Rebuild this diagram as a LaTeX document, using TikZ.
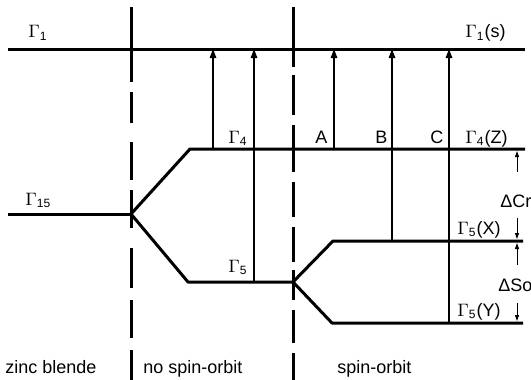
\documentclass[tikz,border=0pt]{standalone}
\usepackage{fontspec}
\setmainfont{Liberation Sans}
\usetikzlibrary{arrows.meta}
\begin{document}
\begin{tikzpicture}[x=0.5pt,y=-0.5pt,
  level/.style={line width=1.5pt},
  divider/.style={line width=1.5pt},
  trans/.style={line width=0.8pt,-{Triangle[length=4.5pt,width=3.2pt]}},
  gaparrow/.style={line width=0.5pt,-{Triangle[length=3pt,width=2pt]}},
  lab/.style={anchor=base west,inner sep=0pt,font=\fontsize{9}{11}\selectfont}]
\useasboundingbox (0,0) rectangle (531,380);
% dividers
\foreach \a/\b in {7/82,92/123,142/180,190/228,248/288,300/338,350/380}
  \draw[divider] (131,\a) -- (131,\b);
\foreach \a/\b in {7/67,75/115,125/172,182/217,227/262,270/300,310/343,353/380}
  \draw[divider] (293,\a) -- (293,\b);
% level coordinates
\coordinate (g1L) at (8,49);
\coordinate (g1R) at (525,49);
\coordinate (g15L) at (8,214);
\coordinate (s1) at (131,214);
\coordinate (u1) at (190,149);
\coordinate (g4R) at (525,149);
\coordinate (l1) at (188,282);
\coordinate (s2) at (293,282);
\coordinate (u2) at (333,241);
\coordinate (g5xR) at (523,241);
\coordinate (l2) at (332,323);
\coordinate (g5yR) at (523,323);
% levels
\draw[level] (g1L) -- (g1R);
\draw[level] (g15L) -- (s1);
\draw[level,line join=round] (g4R) -- (u1) -- (s1) -- (l1) -- (s2);
\draw[level,line join=round] (g5xR) -- (u2) -- (s2) -- (l2) -- (g5yR);
% transitions
\foreach \n/\x/\y in {t1/213/149,t2/254/282,tA/334/149,tB/392/241,tC/449/323}{
  \coordinate (\n b) at (\x,\y);
  \coordinate (\n t) at (\x,49);
}
\foreach \n in {t1,t2,tA,tB,tC}
  \draw[trans] (\n b) -- (\n t);
% splitting arrows
\coordinate (cr1) at (517,172); \coordinate (cr1e) at (517,151);
\coordinate (cr2) at (517,218); \coordinate (cr2e) at (517,239);
\coordinate (so1) at (517,265); \coordinate (so1e) at (517,243);
\coordinate (so2) at (517,303); \coordinate (so2e) at (517,321);
\draw[gaparrow] (cr1) -- (cr1e);
\draw[gaparrow] (cr2) -- (cr2e);
\draw[gaparrow] (so1) -- (so1e);
\draw[gaparrow] (so2) -- (so2e);
% labels
\node[lab] (lg1) at (28,38) {$\Gamma$\textsubscript{1}};
\node[lab] (lg1s) at (465,38) {$\Gamma$\textsubscript{1}(s)};
\node[lab] (lg15) at (25,205) {$\Gamma$\textsubscript{15}};
\node[lab] (lg4) at (228,143) {$\Gamma$\textsubscript{4}};
\node[lab] (lg5) at (228,272) {$\Gamma$\textsubscript{5}};
\node[lab] (lA) at (315,143) {A};
\node[lab] (lB) at (375,143) {B};
\node[lab] (lC) at (430,143) {C};
\node[lab] (lg4z) at (465,143) {$\Gamma$\textsubscript{4}(Z)};
\node[lab] (lcr) at (500,207) {ΔCr};
\node[lab] (lg5x) at (457,234) {$\Gamma$\textsubscript{5}(X)};
\node[lab] (lso) at (498,291) {ΔSo};
\node[lab] (lg5y) at (457,316) {$\Gamma$\textsubscript{5}(Y)};
\node[lab] (lzb) at (5,373) {zinc blende};
\node[lab] (lnso) at (143,373) {no spin-orbit};
\node[lab] (lso2) at (337,373) {spin-orbit};
\end{tikzpicture}
\end{document}
